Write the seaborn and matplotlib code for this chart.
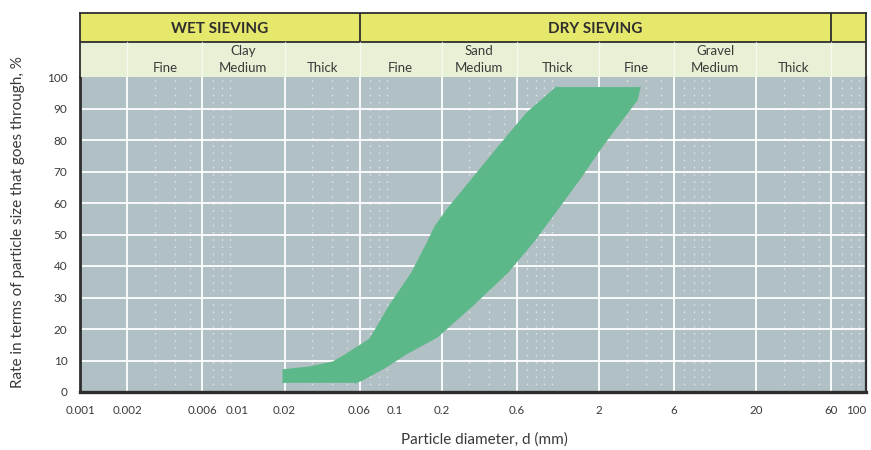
import numpy as np
import matplotlib
matplotlib.use("Agg")
import matplotlib.pyplot as plt
from matplotlib.ticker import LogLocator, NullFormatter
import seaborn as sns

# grading band: % passing against diameter (mm)
# fine-side limit (upper curve) and coarse-side limit (lower curve)
fine_pct = [2.9, 7.0, 7.9, 9.5, 11.7, 16.8, 27.6, 37.8, 47.6, 52.4, 57.8, 67.9, 78.4, 88.6, 96.8]
fine_d = [0.0196, 0.0196, 0.029, 0.0407, 0.0485, 0.070, 0.0938, 0.129, 0.163, 0.181,
          0.216, 0.316, 0.470, 0.698, 1.08]
coarse_pct = [2.9, 3.8, 7.6, 12.1, 17.5, 27.6, 37.8, 47.6, 57.8, 67.9, 78.4, 88.6, 92.7, 96.8]
coarse_d = [0.0562, 0.0622, 0.0859, 0.1186, 0.187, 0.316, 0.520, 0.762, 1.08, 1.52,
            2.12, 3.02, 3.49, 3.65]

x_ticks = [0.001, 0.002, 0.006, 0.01, 0.02, 0.06, 0.1, 0.2, 0.6, 2, 6, 20, 60, 100]
x_tick_labels = ["0.001", "0.002", "0.006", "0.01", "0.02", "0.06", "0.1",
                 "0.2", "0.6", "2", "6", "20", "60", "100"]
y_ticks = list(range(0, 101, 10))

# class boundaries (mm) and the names in the header
class_bounds = [0.002, 0.006, 0.02, 0.06, 0.2, 0.6, 2, 6, 20, 60]
sub_labels = ["Fine", "Medium", "Thick"] * 3
group_labels = ["Clay", "Sand", "Gravel"]
sieving_labels = ["WET SIEVING", "DRY SIEVING", ""]
sieving_edges = [0.001, 0.06, 60, 100]

GREY = "#b1c0c5"
GREEN = "#5db889"
YELLOW = "#e6e86c"
LIGHT = "#e8f1d5"
DARK = "#2e2e2e"
TXT = "#3a3a3a"

sns.set_theme(style="white")
plt.rcParams["font.family"] = ["Lato", "DejaVu Sans"]

fig = plt.figure(figsize=(8.71, 4.5), dpi=100)
ax = fig.add_axes([80 / 871, 58 / 450, 786 / 871, 315 / 450])
hdr = fig.add_axes([80 / 871, 373 / 450, 786 / 871, 64 / 450])

# --- main panel ---
ax.set_facecolor(GREY)
ax.set_xscale("log")
ax.set_xlim(0.001, 100)
ax.set_ylim(0, 100)

for v in y_ticks[1:-1]:
    ax.axhline(v, color="white", lw=1.3, zorder=1)
for b in class_bounds:
    ax.axvline(b, color="white", lw=1.3, zorder=1)
ax.xaxis.set_minor_locator(LogLocator(base=10, subs=range(1, 10), numticks=30))
ax.xaxis.set_minor_formatter(NullFormatter())
ax.grid(which="minor", axis="x", color="white", ls=(0, (1.2, 4)), lw=1, alpha=0.55)

# band: up the fine-side curve, back down the coarse-side curve
band_x = list(fine_d) + list(coarse_d[::-1])
band_y = list(fine_pct) + list(coarse_pct[::-1])
ax.fill(band_x, band_y, color=GREEN, lw=0, zorder=3)
sns.lineplot(x=fine_d, y=fine_pct, orient="y", sort=False, color=GREEN,
             lw=1, errorbar=None, ax=ax, zorder=3)
sns.lineplot(x=coarse_d, y=coarse_pct, orient="y", sort=False, color=GREEN,
             lw=1, errorbar=None, ax=ax, zorder=3)

ax.set_xticks(x_ticks, x_tick_labels)
ax.set_yticks(y_ticks)
ax.tick_params(axis="both", which="both", length=0, labelcolor=TXT)
ax.tick_params(axis="x", pad=9, labelsize=8.3)
ax.tick_params(axis="y", pad=9, labelsize=8.5)
ax.get_xticklabels()[-1].set_ha("right")

ax.set_xlabel("Particle diameter, d (mm)", fontsize=11, color=TXT, va="center")
ax.xaxis.set_label_coords(0.514, -0.152)
ax.set_ylabel("Rate in terms of particle size that goes through, %",
              fontsize=11, color=TXT, va="center")
ax.yaxis.set_label_coords(-0.079, 0.54)

for side in ["left", "bottom", "right"]:
    ax.spines[side].set_visible(True)
    ax.spines[side].set_color(DARK)
ax.spines["left"].set_linewidth(2)
ax.spines["bottom"].set_linewidth(2.4)
ax.spines["right"].set_linewidth(1.6)
ax.spines["top"].set_visible(False)

# --- header with the sieving / soil classes ---
hdr.set_xscale("log")
hdr.set_xlim(0.001, 100)
hdr.set_ylim(0, 1)
split = 0.547
hdr.axhspan(0, split, color=LIGHT, lw=0)
hdr.axhspan(split, 1, color=YELLOW, lw=0)
hdr.axhline(split, color=DARK, lw=1.3)
for e in sieving_edges[1:-1]:
    hdr.plot([e, e], [split, 1], color=DARK, lw=1.3)
for b in class_bounds:
    hdr.plot([b, b], [0, split], color="white", lw=1, alpha=0.7)

for i, name in enumerate(sieving_labels):
    if name:
        xc = np.sqrt(sieving_edges[i] * sieving_edges[i + 1])
        hdr.text(xc, 0.75, name, ha="center", va="center", fontsize=11,
                 fontweight="bold", color=DARK)
for i, name in enumerate(sub_labels):
    xc = np.sqrt(class_bounds[i] * class_bounds[i + 1])
    hdr.text(xc, 0.14, name, ha="center", va="center", fontsize=9.5, color=TXT)
for i, name in enumerate(group_labels):
    xc = np.sqrt(class_bounds[3 * i + 1] * class_bounds[3 * i + 2])
    hdr.text(xc, 0.41, name, ha="center", va="center", fontsize=9.5, color=TXT)

hdr.set_xticks([])
hdr.set_yticks([])
hdr.minorticks_off()
for side in ["left", "top", "right"]:
    hdr.spines[side].set_visible(True)
    hdr.spines[side].set_color(DARK)
    hdr.spines[side].set_linewidth(1.3)
hdr.spines["bottom"].set_visible(False)

fig.savefig("out.png", dpi=100)
